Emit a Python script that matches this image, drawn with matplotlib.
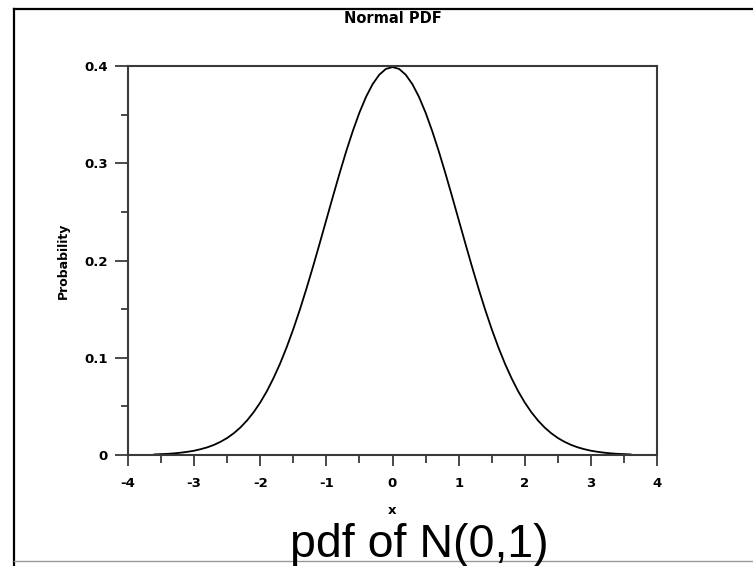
import matplotlib
matplotlib.use("Agg")
import matplotlib.pyplot as plt
from matplotlib.lines import Line2D
from matplotlib.ticker import MultipleLocator

plt.rcParams["axes.unicode_minus"] = False

# curve values, x from -3.6 to 3.6 in steps of 0.1
x_vals = [round(-3.6 + 0.1 * i, 1) for i in range(73)]
pdf_vals = [
    0.0006, 0.0009, 0.0012, 0.0017, 0.0024, 0.0033, 0.0044, 0.0060, 0.0079, 0.0104,
    0.0136, 0.0175, 0.0224, 0.0283, 0.0355, 0.0440, 0.0540, 0.0656, 0.0790, 0.0940,
    0.1109, 0.1295, 0.1497, 0.1714, 0.1942, 0.2179, 0.2420, 0.2661, 0.2897, 0.3123,
    0.3332, 0.3521, 0.3683, 0.3814, 0.3910, 0.3970, 0.3989,
    0.3970, 0.3910, 0.3814, 0.3683, 0.3521, 0.3332, 0.3123, 0.2897, 0.2661, 0.2420,
    0.2179, 0.1942, 0.1714, 0.1497, 0.1295, 0.1109, 0.0940, 0.0790, 0.0656, 0.0540,
    0.0440, 0.0355, 0.0283, 0.0224, 0.0175, 0.0136, 0.0104, 0.0079, 0.0060, 0.0044,
    0.0033, 0.0024, 0.0017, 0.0012, 0.0009, 0.0006,
]
x_ticks = [-4, -3, -2, -1, 0, 1, 2, 3, 4]
y_ticks = [0, 0.1, 0.2, 0.3, 0.4]
y_tick_labels = ["0", "0.1", "0.2", "0.3", "0.4"]

W, H = 753, 566
fig = plt.figure(figsize=(W / 100, H / 100), dpi=100)
ax = fig.add_axes([128 / W, 1 - 455 / H, (657 - 128) / W, (455 - 66) / H])

ax.plot(x_vals, pdf_vals, color="black", linewidth=1.3)

ax.set_xlim(-4, 4)
ax.set_ylim(0, 0.4)
ax.set_xticks(x_ticks)
ax.set_yticks(y_ticks)
ax.set_yticklabels(y_tick_labels)
ax.xaxis.set_minor_locator(MultipleLocator(0.5))
ax.yaxis.set_minor_locator(MultipleLocator(0.05))

for side in ax.spines.values():
    side.set_color("#3a3a3a")
    side.set_linewidth(1.5)

ax.tick_params(axis="both", which="both", direction="out", color="#3a3a3a",
               width=1.3, top=False, right=False)
ax.tick_params(axis="x", which="major", length=8, pad=8)
ax.tick_params(axis="x", which="minor", length=5.5)
ax.tick_params(axis="y", which="major", length=9.5, pad=5)
ax.tick_params(axis="y", which="minor", length=5)
for lab in ax.get_xticklabels() + ax.get_yticklabels():
    lab.set_fontfamily("DejaVu Sans")
    lab.set_fontweight("bold")
    lab.set_fontsize(9.5)

ax.set_xlabel("x", fontsize=9.5, fontweight="bold", labelpad=10)
ax.set_ylabel("Probability", fontsize=9, fontweight="bold", labelpad=10)

fig.text((128 + 657) / 2 / W, 1 - 18.5 / H, "Normal PDF", fontsize=10.5,
         fontweight="bold", ha="center", va="center")

# frame lines around the figure
fig.add_artist(Line2D([14 / W, 14 / W], [0, 1 - 9 / H], transform=fig.transFigure,
                      color="black", linewidth=1.6))
fig.add_artist(Line2D([14 / W, 1], [1 - 9 / H, 1 - 9 / H], transform=fig.transFigure,
                      color="black", linewidth=1.6))
fig.add_artist(Line2D([14 / W, 1], [1 - 561 / H, 1 - 561 / H], transform=fig.transFigure,
                      color="#999999", linewidth=1.0))

fig.text(290 / W, 1 - 557 / H, "pdf of N(0,1)", fontsize=33.5,
         family="Liberation Sans", ha="left", va="baseline")

fig.savefig("out.png", dpi=100)
